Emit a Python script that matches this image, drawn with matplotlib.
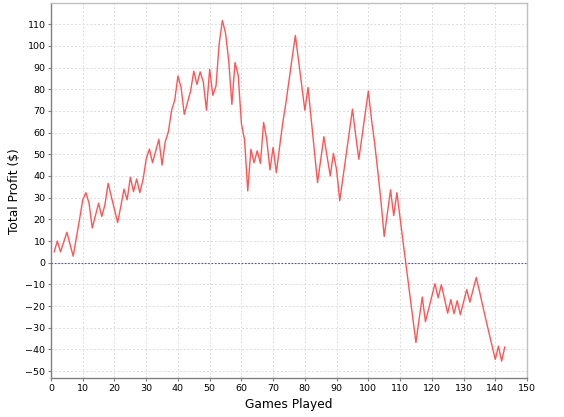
import matplotlib
matplotlib.use("Agg")
import matplotlib.pyplot as plt

# games 1..143, cumulative profit
games = list(range(1, 144))
profit = [
    5, 10, 5, 9.5, 14, 8.5, 3, 11.5, 20, 29,
    32.3, 27.4, 16, 21.7, 27.4, 21.3, 26.7, 36.6, 30.6, 24.5,
    18.5, 26, 33.9, 29, 39.4, 32.8, 38.6, 32.3, 38.2, 47.8,
    52.4, 46.1, 51.5, 56.9, 45, 55.8, 60.4, 70.3, 75, 86.1,
    80.8, 68.4, 73.8, 79.2, 88.3, 82.2, 88, 83.4, 70.3, 89.2,
    77.2, 81.5, 101, 111.7, 105.9, 93.3, 73, 92.3, 86.4, 64.2,
    56.6, 33.1, 52.3, 46.1, 51.6, 45.8, 64.7, 56.6, 42.8, 53.2,
    41.5, 53, 64.2, 73.4, 84, 94.5, 104.8, 93.3, 81.8, 70.3,
    80.8, 66.2, 51.5, 36.9, 47.5, 58.1, 49, 40, 50.4, 42.8,
    28.6, 39.2, 49.7, 60.3, 70.8, 59, 47.7, 58.2, 68.6, 79.1,
    66, 55, 42, 28, 12.1, 23, 33.6, 21.7, 32.3, 20.5,
    9, -2.5, -14, -25.5, -36.8, -26, -15.8, -27.2, -21.3, -15.5,
    -9.7, -16.2, -10.2, -16.6, -23.3, -17, -23.5, -17.5, -24, -18.2,
    -12.4, -18.2, -12.5, -6.8, -13, -19.5, -26, -32.2, -38.4, -44.6,
    -38.5, -45.4, -38.9,
]

x_ticks = list(range(0, 151, 10))
y_ticks = list(range(-50, 111, 10))

fig = plt.figure(figsize=(5.64, 4.17), dpi=100)
ax = fig.add_axes([0.0904, 0.0928, 0.8440, 0.8992])

ax.plot(games, profit, color="#FF5555", linewidth=1.0, zorder=3)
ax.axhline(0, color="#555588", linewidth=0.8, linestyle=(0, (1.5, 1.5)), zorder=2)

ax.set_xlim(0, 150)
ax.set_ylim(-53.3, 119.6)
ax.set_xticks(x_ticks)
ax.set_yticks(y_ticks)
ax.grid(True, color="#dcdcdc", linestyle=(0, (2, 2)), linewidth=0.7)
ax.set_axisbelow(True)

for side in ("left", "bottom"):
    ax.spines[side].set_color("#808080")
    ax.spines[side].set_linewidth(1.0)
for side in ("top", "right"):
    ax.spines[side].set_color("#c0c0c0")
    ax.spines[side].set_linewidth(1.0)

ax.tick_params(axis="both", labelsize=6.8, length=2, width=0.8,
               color="#808080", pad=2)
ax.set_xlabel("Games Played", fontsize=8.8, labelpad=4)
ax.set_ylabel("Total Profit ($)", fontsize=8.8, labelpad=3)

fig.savefig("out.png", dpi=100)
